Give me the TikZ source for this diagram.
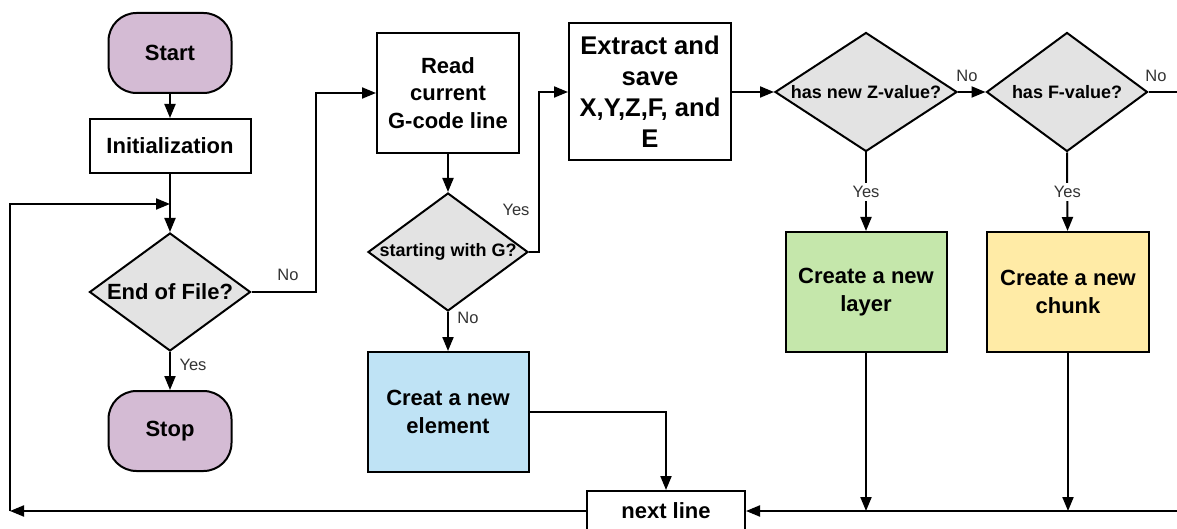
\documentclass[tikz,border=0pt]{standalone}
\usepackage{fontspec}
\setmainfont{Liberation Sans}
\usetikzlibrary{shapes.geometric,arrows.meta}
\definecolor{termfill}{HTML}{D4BBD4}
\definecolor{decfill}{HTML}{E3E3E3}
\definecolor{bluefill}{HTML}{BFE3F5}
\definecolor{greenfill}{HTML}{C5E7AB}
\definecolor{yellowfill}{HTML}{FFEBA6}
\definecolor{lblcol}{HTML}{333333}
\tikzset{
  base/.style={draw=black, line width=2pt, inner sep=0pt, align=center,
    font=\fontsize{22}{27.5}\selectfont\bfseries},
  term/.style={base, fill=termfill, rounded corners=28pt, minimum width=123pt, minimum height=80pt},
  proc/.style={base, fill=white, minimum width=161pt, minimum height=120pt},
  dec/.style={base, diamond, fill=decfill, minimum width=161pt, minimum height=118pt},
  dectext/.style={font=\fontsize{18}{22}\selectfont\bfseries, inner sep=0pt},
  arr/.style={line width=2pt, -{Triangle[length=14pt,width=11pt]}},
  ln/.style={line width=2pt},
  lbl/.style={font=\fontsize{16.5}{20}\selectfont, text=lblcol, inner sep=1pt},
}
\begin{document}
\begin{tikzpicture}[x=1pt,y=-1pt]
\fill[white] (0,0) rectangle (1177,529);
\clip (0,0) rectangle (1177,529);
% nodes
\node[term] (start) at (170,53) {Start};
\node[proc, minimum height=54pt] (init) at (170,146) {Initialization};
\node[dec] (eof) at (170,292) {};
\node[dectext, font=\fontsize{22}{27}\selectfont\bfseries] (eoft) at (170,292) {End of File?};
\node[term] (stop) at (170,431) {Stop};
\node[proc, minimum width=142pt, minimum height=120pt] (read) at (448,93) {Read\\current\\G-code line};
\node[dec, minimum width=160pt] (g) at (448,252) {};
\node[dectext] (gt) at (448,252) {starting with G?};
\node[proc, fill=bluefill] (creat) at (448,412) {Creat a new\\element};
\node[proc, minimum width=162pt, minimum height=137pt, font=\fontsize{25.6}{31}\selectfont\bfseries] (extract) at (650,92) {Extract and\\save\\X,Y,Z,F, and\\E};
\node[dec, minimum width=182pt, minimum height=119pt] (z) at (866,92) {};
\node[dectext] (zt) at (866,92) {has new Z-value?};
\node[dec, minimum height=119pt] (f) at (1067,92) {};
\node[dectext] (ft) at (1067,92) {has F-value?};
\node[proc, fill=greenfill] (layer) at (866,292) {Create a new\\layer};
\node[proc, fill=yellowfill, minimum width=162pt] (chunk) at (1068,292) {Create a new\\chunk};
\node[proc, minimum width=158pt, minimum height=40pt] (next) at (666,511) {next line};
% helper coordinates
\coordinate (nox) at (316,0);
\coordinate (yesx) at (539,0);
\coordinate (fbL) at (10,511);
\coordinate (fbT) at (170,204);
\coordinate (fout) at (1190,92);
\coordinate (bin) at (1190,511);
% connectors
\draw[arr] (start) -- (init);
\draw[arr] (init) -- (eof.north);
\draw[arr] (eof.south) -- (stop);
\draw[arr] (eof.east) -- (eof.east -| nox) -- (nox |- read.west) -- (read.west);
\draw[arr] (read) -- (g.north);
\draw[arr] (g.east) -- (g.east -| yesx) -- (yesx |- extract.west) -- (extract.west);
\draw[arr] (g.south) -- (creat);
\draw[arr] (creat.east) -| (next.north);
\draw[arr] (extract) -- (z.west);
\draw[arr] (z.east) -- (f.west);
\draw[ln] (f.east) -- (fout);
\draw[arr] (z.south) -- node[lbl, fill=white, inner sep=3pt] {Yes} (layer);
\draw[arr] (f.south) -- node[lbl, fill=white, inner sep=3pt] {Yes} (chunk);
\draw[arr] (bin) -- (next.east);
\draw[arr] (layer) -- (layer.south |- next.east);
\draw[arr] (chunk) -- (chunk.south |- next.east);
\draw[arr] (next.west) -- (fbL);
\draw[arr] (fbL) |- (fbT);
% labels
\node[lbl] (l1) at (288,275) {No};
\node[lbl] (l2) at (193,365) {Yes};
\node[lbl] (l3) at (516,210) {Yes};
\node[lbl] (l4) at (468,318) {No};
\node[lbl] (l5) at (967,76) {No};
\node[lbl] (l6) at (1156,76) {No};
\end{tikzpicture}
\end{document}
